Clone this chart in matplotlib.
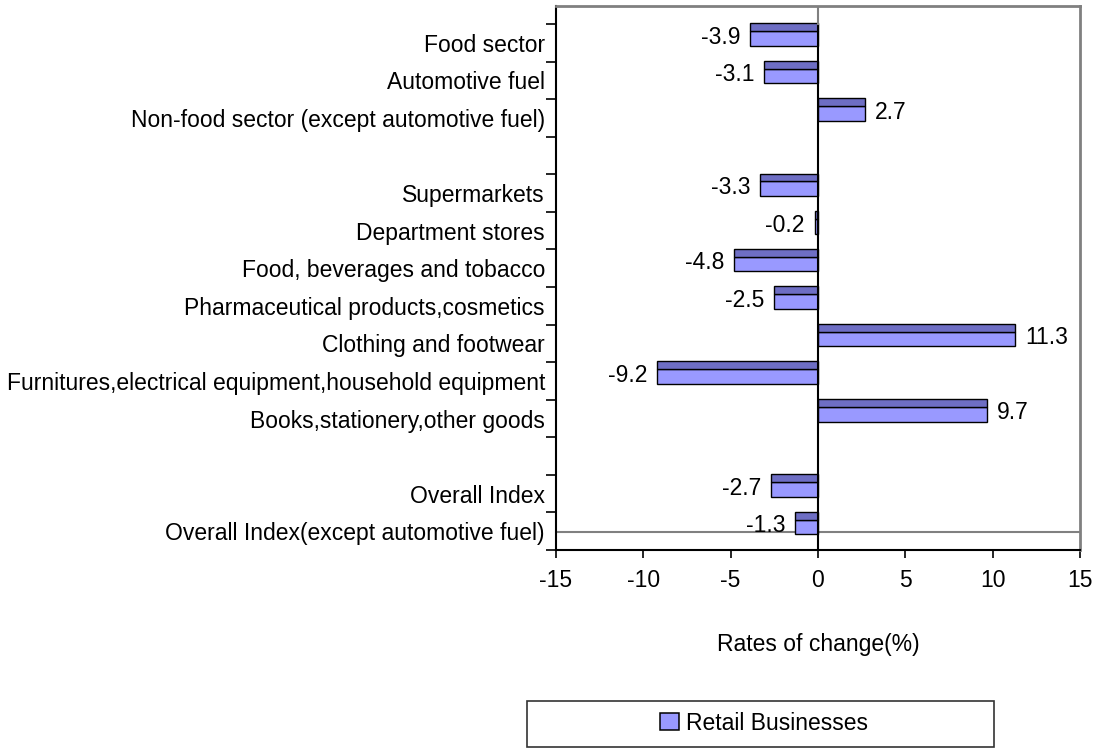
import numpy as np
import matplotlib
matplotlib.use('Agg')
import matplotlib.pyplot as plt
import matplotlib.patches as patches

plt.rcParams['font.family'] = ['Liberation Sans', 'DejaVu Sans']

# Categories from top to bottom ('' = empty gap slot)
categories = [
    'Food sector',
    'Automotive fuel',
    'Non-food sector (except automotive fuel)',
    '',
    'Supermarkets',
    'Department stores',
    'Food, beverages and tobacco',
    'Pharmaceutical products,cosmetics',
    'Clothing and footwear',
    'Furnitures,electrical equipment,household equipment',
    'Books,stationery,other goods',
    '',
    'Overall Index',
    'Overall Index(except automotive fuel)',
]
rates = [-3.9, -3.1, 2.7, np.nan, -3.3, -0.2, -4.8, -2.5, 11.3, -9.2, 9.7, np.nan, -2.7, -1.3]
series_name = 'Retail Businesses'
x_ticks = [-15, -10, -5, 0, 5, 10, 15]

front_color = '#9999ff'
top_color = '#6e6ec4'
fs = 16.5

fig = plt.figure(figsize=(11.04, 7.49), dpi=100)
ax = fig.add_axes([556 / 1104, 1 - 550 / 749, 524 / 1104, 544 / 749])

y = np.arange(len(categories))
vals = np.array(rates, dtype=float)
mask = ~np.isnan(vals)

# fake 3D bars: front face + darker top face
ax.barh(y[mask] - 0.115, vals[mask], height=0.39, color=front_color,
        edgecolor='black', linewidth=1.0, zorder=3)
ax.barh(y[mask] - 0.415, vals[mask], height=0.21, color=top_color,
        edgecolor='black', linewidth=1.0, zorder=3)

# value labels
for yi, v in zip(y[mask], vals[mask]):
    off = 7 if v > 0 else -7
    ax.annotate(f'{v:.1f}', (v, yi - 0.15), xytext=(off, 0), textcoords='offset points',
                ha='left' if v > 0 else 'right', va='center', fontsize=fs, zorder=4)

n = len(categories)
depth = 18 / 37.57
ax.set_xlim(-15, 15)
ax.set_ylim(n - 0.5, -0.5 - depth)

# back floor line and zero line
ax.axhline(n - 0.5 - depth, color='#808080', lw=1.5, zorder=2)
ax.plot([0, 0], [n - 0.5, -0.5], color='black', lw=1.5, zorder=5)
ax.plot([0, 0], [-0.5, -0.5 - depth], color='#808080', lw=1.5, zorder=5)

ax.set_xticks(x_ticks)
ax.set_xticklabels([str(t) for t in x_ticks], fontsize=fs)
ax.set_yticks(np.arange(n + 1) - 0.5)
ax.set_yticklabels([])
ax.set_yticks(y, minor=True)
ax.set_yticklabels(categories, minor=True, fontsize=fs)
ax.tick_params(axis='y', which='major', length=7, width=1.2, direction='out')
ax.tick_params(axis='y', which='minor', length=0, pad=8)
ax.tick_params(axis='x', length=6, width=1.2, direction='out', pad=8)
ax.set_xlabel('Rates of change(%)', fontsize=fs, labelpad=29)

ax.spines['left'].set_color('black')
ax.spines['bottom'].set_color('black')
ax.spines['left'].set_linewidth(1.5)
ax.spines['bottom'].set_linewidth(1.5)
ax.spines['top'].set_color('#808080')
ax.spines['right'].set_color('#808080')
ax.spines['top'].set_linewidth(2)
ax.spines['right'].set_linewidth(2)

# legend box
box = patches.Rectangle((527 / 1104, 1 - 747 / 749), 467 / 1104, 46 / 749,
                        transform=fig.transFigure, facecolor='white',
                        edgecolor='#333333', linewidth=1.2)
fig.patches.append(box)
handle = patches.Patch(facecolor=front_color, edgecolor='black', linewidth=1.1, label=series_name)
fig.legend(handles=[handle], loc='center', bbox_to_anchor=(764 / 1104, 1 - 723 / 749),
           frameon=False, fontsize=fs, handlelength=0.8, handleheight=0.8,
           handletextpad=0.3)

fig.savefig('out.png', dpi=100)
